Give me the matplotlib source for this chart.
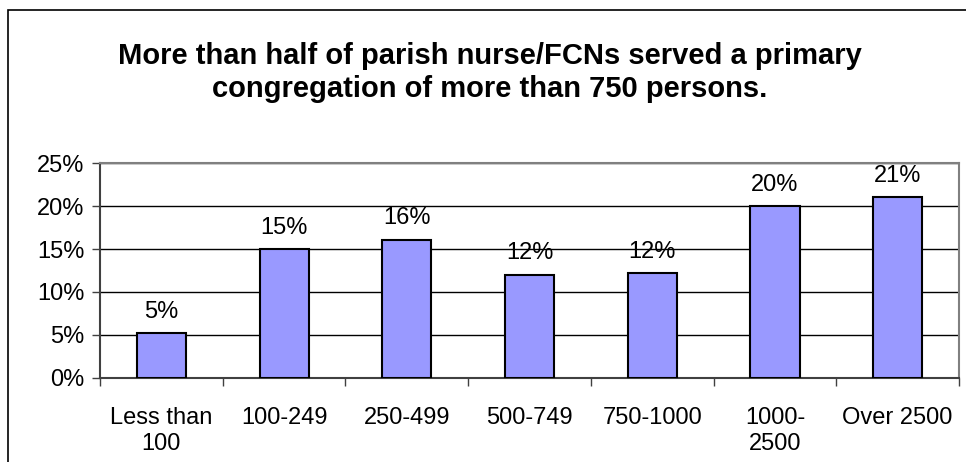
import matplotlib.pyplot as plt
from matplotlib.patches import Rectangle
from matplotlib.ticker import PercentFormatter, FixedLocator

plt.rcParams['font.family'] = ['Liberation Sans', 'DejaVu Sans']

# data
categories = ["Less than\n100", "100-249", "250-499", "500-749", "750-1000", "1000-\n2500", "Over 2500"]
values = [5.2, 15.0, 16.1, 12.0, 12.2, 20.0, 21.0]
labels = ["5%", "15%", "16%", "12%", "12%", "20%", "21%"]

fig = plt.figure(figsize=(9.66, 4.62), dpi=100)
ax = fig.add_axes([0.1035, 0.182, 0.8893, 0.465])

# outer chart border
fig.patches.append(Rectangle((8 / 966, -0.05), 1.2, 1 - 10 / 462 + 0.05,
                             transform=fig.transFigure, fill=False,
                             edgecolor='black', linewidth=1.2))

x = range(len(categories))
ax.bar(x, values, width=0.4, color='#9999ff', edgecolor='black', linewidth=1.5, zorder=3)
for xi, v, lab in zip(x, values, labels):
    ax.text(xi, v + 1.2, lab, ha='center', va='bottom', fontsize=17)

ax.set_xlim(-0.5, len(categories) - 0.5)
ax.set_ylim(0, 25)
ax.set_yticks([0, 5, 10, 15, 20, 25])
ax.yaxis.set_major_formatter(PercentFormatter(decimals=0))
ax.grid(axis='y', color='black', linewidth=1, zorder=0)

ax.set_xticks(list(x))
ax.set_xticklabels(categories, fontsize=17, linespacing=1.25)
ax.xaxis.set_minor_locator(FixedLocator([i - 0.5 for i in range(len(categories) + 1)]))
ax.tick_params(axis='x', which='major', length=0, pad=21)
ax.tick_params(axis='x', which='minor', length=6, width=1, color='#404040', direction='out')
ax.tick_params(axis='y', labelsize=17, length=6, width=1, color='#404040', pad=5)

for side in ['top', 'right']:
    ax.spines[side].set_color('#808080')
    ax.spines[side].set_linewidth(1.5)
for side in ['left', 'bottom']:
    ax.spines[side].set_color('#404040')
    ax.spines[side].set_linewidth(1.5)

fig.text(0.507, 0.843, "More than half of parish nurse/FCNs served a primary\ncongregation of more than 750 persons.",
         ha='center', va='center', fontsize=21, fontweight='bold', linespacing=1.25)

fig.savefig("out.png", dpi=100)
